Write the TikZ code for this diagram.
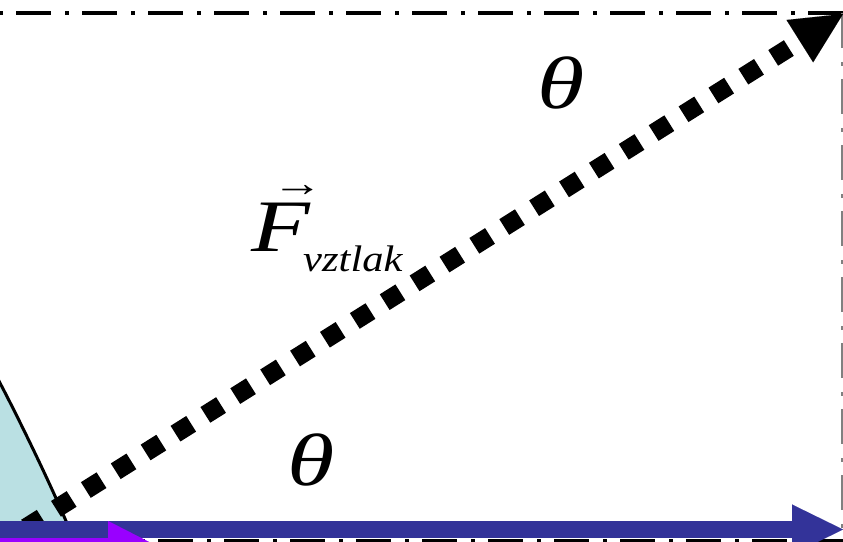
\documentclass[tikz,border=0pt]{standalone}
\usepackage{fontspec}
\setmainfont{Liberation Serif}
\usetikzlibrary{arrows.meta,positioning}
\definecolor{hullblue}{RGB}{186,224,227}
\definecolor{flowblue}{RGB}{51,51,153}
\definecolor{flowviolet}{RGB}{153,0,255}

\begin{document}
\begin{tikzpicture}[x=1pt,y=1pt,
  dashdot/.style={dash pattern=on 35pt off 14pt on 4pt off 13pt},
  ang/.style={inner sep=0pt,xscale=1.3,transform shape,font=\fontsize{74}{74}\selectfont\itshape}]
\useasboundingbox (0,0) rectangle (843,541);
\clip (0,0) rectangle (843,541);
\draw[line width=4pt,dashdot] (-50,528)--(843,528);
\draw[gray,line width=1.5pt,dashdot] (842,528)--(842,0);
\fill[hullblue] (-4,166)--(0,158) .. controls (18,124) and (60,38) .. (74,0) -- (-5,0) -- cycle;
\draw[line width=3pt] (-4,166)--(0,158) .. controls (18,124) and (60,38) .. (74,0);
\coordinate (foot) at (0,-3);
\coordinate (tip) at (843,527);
\draw[line width=18.5pt,dash pattern=on 18.5pt off 16.8pt,dash phase=4.5pt,
  -{Triangle[length=51pt,width=50pt,line width=0.01pt]}] (foot)--(tip);
\draw[line width=5pt,dashdot] (-40,0)--(843,0);
\coordinate (vstart) at (-10,-4);
\coordinate (vend) at (155,-4);
\coordinate (bstart) at (-10,11.5);
\coordinate (bend) at (843,11.5);
\draw[flowblue,line width=17pt,-{Triangle[length=51pt,width=50pt,line width=0.01pt]}] (bstart)--(bend);
\draw[flowviolet,line width=14pt,-{Triangle[length=47pt,width=48pt,line width=0.01pt]}] (vstart)--(vend);
\node[ang] (upper) at (561,458) {θ};
\node[ang] (lower) at (311,81) {θ};
\node[ang,anchor=base west] (force) at (251,289)
  {\rlap{\hspace{16pt}\raisebox{55pt}{\fontsize{39}{39}\selectfont\upshape →}}F};
\node[anchor=base west,inner sep=0pt,xscale=1.15,transform shape,
  font=\fontsize{37}{37}\selectfont\itshape] (sub) at (303,269) {vztlak};
\end{tikzpicture}
\end{document}
